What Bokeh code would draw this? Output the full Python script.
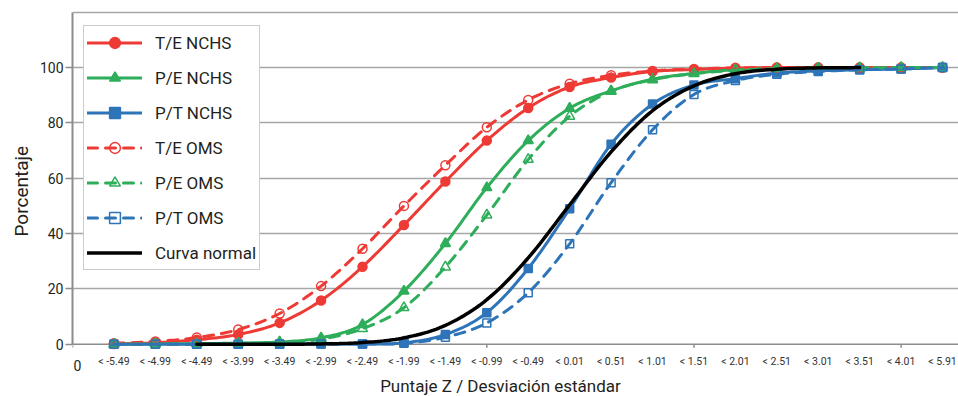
import numpy as np
from bokeh.plotting import figure
from bokeh.core.properties import value
from bokeh.models import (Range1d, FixedTicker, Legend, LegendItem, Label, LabelSet,
                          ColumnDataSource, Span, Title)
from bokeh.embed import file_html
from bokeh.resources import INLINE

# ---------------- data ----------------
categories = ["< -5.49", "< -4.99", "< -4.49", "< -3.99", "< -3.49", "< -2.99", "< -2.49",
              "< -1.99", "< -1.49", "< -0.99", "< -0.49", "< 0.01", "< 0.51", "< 1.01",
              "< 1.51", "< 2.01", "< 2.51", "< 3.01", "< 3.51", "< 4.01", "< 5.91"]
x_pos = list(range(1, 22))

te_nchs = [0.1, 0.5, 1.6, 3.5, 7.7, 15.8, 28.0, 43.1, 58.8, 73.6, 85.4, 93.0, 96.4, 98.6,
           99.3, 99.8, 100, 100, 100, 100, 100]
pe_nchs = [0.0, 0.1, 0.2, 0.4, 0.8, 2.3, 7.1, 19.2, 36.4, 56.6, 73.6, 85.3, 91.6, 95.8,
           97.9, 99.2, 99.6, 99.8, 99.9, 100, 100]
pt_nchs = [0.0, 0.0, 0.0, 0.0, 0.1, 0.1, 0.1, 0.5, 3.5, 11.4, 27.4, 49.0, 72.3, 86.8,
           93.7, 96.0, 98.0, 98.8, 99.2, 99.5, 100]
te_oms = [0.3, 1.0, 2.4, 5.3, 11.1, 21.0, 34.5, 50.0, 64.7, 78.4, 88.3, 94.2, 97.2, 98.8,
          99.5, 99.9, 100, 100, 100, 100, 100]
pe_oms = [0.0, 0.1, 0.1, 0.3, 0.5, 1.8, 5.6, 13.2, 27.9, 46.7, 66.8, 82.4, 91.4, 95.6,
          97.8, 99.0, 99.6, 99.8, 99.9, 100, 100]
pt_oms = [0.0, 0.0, 0.0, 0.0, 0.0, 0.1, 0.1, 0.3, 2.5, 7.7, 18.6, 36.3, 58.4, 77.5,
          90.3, 95.3, 97.6, 98.6, 99.2, 99.5, 100]
normal_x = list(range(3, 20))
normal_y = [0.0, 0.0, 0.0, 0.1, 0.6, 2.3, 6.8, 16.1, 31.2, 50.4, 69.5, 84.4, 93.4, 97.8,
            99.4, 99.9, 100.0]

y_ticks = [0, 20, 40, 60, 80, 100]
grid_ticks = [20, 40, 60, 80, 100, 120]
minor_x_ticks = [0, 5, 10, 15, 20]
x_title = "Puntaje Z / Desviación estándar"
y_title = "Porcentaje"

RED = "#EE3A35"
GREEN = "#2EAE5A"
BLUE = "#2E74B8"
BLACK = "#000000"
AXIS = "#8C8C8C"
FONT = "Roboto"
TXT = "#231F20"


def smooth(xs, ys, steps=14):
    """Catmull-Rom path through the data points (line rendering only)."""
    xs = np.asarray(xs, float)
    ys = np.asarray(ys, float)
    px = np.concatenate([[2 * xs[0] - xs[1]], xs, [2 * xs[-1] - xs[-2]]])
    py = np.concatenate([[2 * ys[0] - ys[1]], ys, [2 * ys[-1] - ys[-2]]])
    ox, oy = [xs[0]], [ys[0]]
    t = np.linspace(0, 1, steps + 1)[1:]
    for j in range(1, len(xs)):
        for arr, out in ((px, ox), (py, oy)):
            p0, p1, p2, p3 = arr[j - 1], arr[j], arr[j + 1], arr[j + 2]
            v = 0.5 * (2 * p1 + (-p0 + p2) * t + (2 * p0 - 5 * p1 + 4 * p2 - p3) * t ** 2
                       + (-p0 + 3 * p1 - 3 * p2 + p3) * t ** 3)
            out.extend(v.tolist())
    return ox, oy


p = figure(width=958, height=396, output_backend="svg", toolbar_location=None,
           x_range=Range1d(0, 21.385), y_range=Range1d(-18.91, 121.0),
           min_border_left=72, min_border_right=0, min_border_top=9, min_border_bottom=0)
p.outline_line_color = None
p.background_fill_color = "white"
p.border_fill_color = "white"
p.xaxis.visible = False

# grid
p.xgrid.visible = False
p.ygrid.ticker = FixedTicker(ticks=grid_ticks)
p.ygrid.grid_line_color = "#A6A6A6"
p.ygrid.grid_line_width = 1.5

# y axis
ya = p.yaxis[0]
ya.ticker = FixedTicker(ticks=y_ticks)
ya.bounds = (0, 120)
ya.minor_tick_line_color = None
ya.major_tick_in = 0
ya.major_tick_out = 7
ya.major_tick_line_color = AXIS
ya.major_tick_line_width = 1.5
ya.axis_line_color = AXIS
ya.axis_line_width = 2
ya.major_label_standoff = 2
ya.major_label_text_font = FONT
ya.major_label_text_font_size = "14px"
ya.major_label_text_color = TXT

p.add_layout(Title(text=y_title, align="left", offset=160, text_font=FONT,
                   text_font_size="19px", text_font_style="normal",
                   text_color=TXT, standoff=8), "left")

# x axis line, tick marks and labels (drawn inside the extended frame)
p.add_layout(Span(location=0, dimension="width", line_color=AXIS, line_width=1.5,
                  level="underlay"))
p.segment(x0=minor_x_ticks, y0=[0] * len(minor_x_ticks), x1=minor_x_ticks,
          y1=[-1.3] * len(minor_x_ticks), line_color=AXIS, line_width=1.5,
          level="underlay")
cat_src = ColumnDataSource(dict(x=x_pos, y=[0] * len(x_pos), text=categories))
p.add_layout(LabelSet(x="x", y="y", text="text", source=cat_src, y_offset=-17,
                      text_align="center", text_baseline="middle",
                      text_font=value(FONT), text_font_size=value("10.5px"),
                      text_color=value("#333333")))
p.add_layout(Label(x=0, y=0, x_offset=1, y_offset=-21, text="0", text_align="left",
                   text_baseline="middle", text_font=FONT, text_font_size="14px",
                   text_color=TXT))
p.add_layout(Label(x=10.33, y=0, y_offset=-42, text=x_title,
                   text_align="center", text_baseline="alphabetic", text_font=FONT,
                   text_font_size="17px", text_color=TXT))

series = [
    ("T/E NCHS", te_nchs, RED, "solid", "circle", 9, True),
    ("P/E NCHS", pe_nchs, GREEN, "solid", "triangle", 10, True),
    ("P/T NCHS", pt_nchs, BLUE, "solid", "square", 8, True),
    ("T/E OMS", te_oms, RED, "10 8", "circle", 9, False),
    ("P/E OMS", pe_oms, GREEN, "10 8", "triangle", 10, False),
    ("P/T OMS", pt_oms, BLUE, "10 8", "square", 8, False),
]

items = []
for name, ys, col, dash, marker, size, filled in series:
    sx, sy = smooth(x_pos, ys)
    lr = p.line(sx, sy, line_color=col, line_width=3, line_dash=dash,
                line_cap="round", line_join="round")
    sr = p.scatter(x_pos, ys, marker=marker, size=size, line_color=col,
                   line_width=1.5, fill_color=col if filled else None)
    items.append(LegendItem(label=name, renderers=[lr, sr]))

nx, ny = smooth(normal_x, normal_y)
nr = p.line(nx, ny, line_color=BLACK, line_width=3.5, line_cap="round")
items.append(LegendItem(label="Curva normal", renderers=[nr]))

legend = Legend(items=items, location=(11, 126), orientation="vertical",
                glyph_width=55, glyph_height=27, label_height=27, spacing=8,
                padding=3, margin=0, label_standoff=13,
                label_text_font=FONT, label_text_font_size="17px",
                label_text_color=TXT,
                border_line_color="#9A9A9A", border_line_width=1,
                background_fill_color="white", background_fill_alpha=1.0)
p.add_layout(legend, "center")

open("out.html", "w").write(file_html(p, INLINE))
